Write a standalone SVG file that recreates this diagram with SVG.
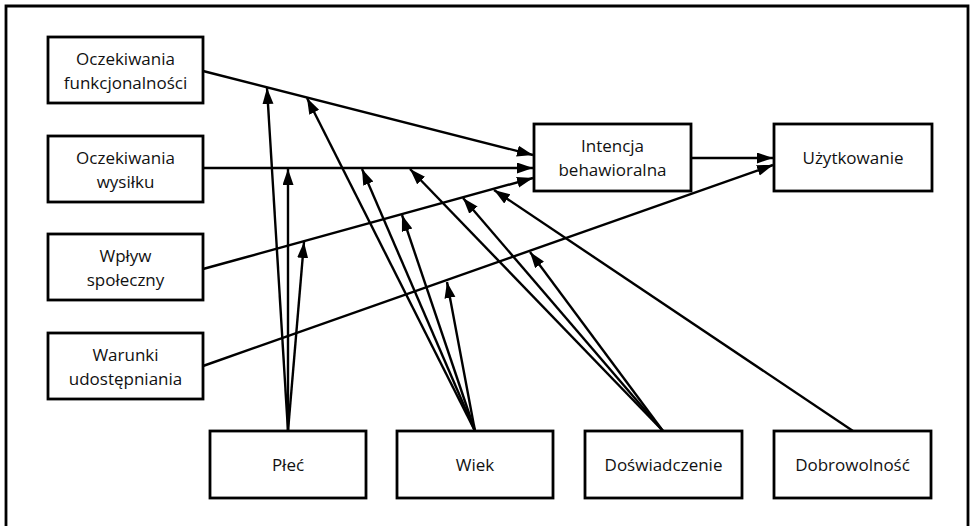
<svg xmlns="http://www.w3.org/2000/svg" width="970" height="526" viewBox="0 0 970 526">
  <style>
    .box { fill: #fff; stroke: #000; stroke-width: 2.8; }
    .lbl { font-family: "Open Sans", "Liberation Sans", sans-serif; font-size: 17px; fill: #111; text-anchor: middle; }
    .edge { fill: none; stroke: #000; stroke-width: 2.4; marker-end: url(#arrow); }
    .frame { fill: none; stroke: #000; stroke-width: 2.8; }
  </style>
  <defs>
    <marker id="arrow" markerUnits="userSpaceOnUse" markerWidth="17" markerHeight="12" refX="16" refY="5.5" orient="auto">
      <path d="M0,0 L16,5.5 L0,11 Z" fill="#000"/>
    </marker>
  </defs>

  <rect width="970" height="526" fill="#fff"/>
  <!-- outer frame, open at the bottom -->
  <path class="frame" d="M6,526 V6 H968 V526"/>

  <!-- connectors -->
  <g id="connectors">
    <!-- predictors to intention / use -->
    <line class="edge" x1="203" y1="71" x2="533" y2="155"/>
    <line class="edge" x1="203" y1="168" x2="533" y2="168"/>
    <line class="edge" x1="203" y1="269" x2="533" y2="178"/>
    <line class="edge" x1="203" y1="366" x2="773" y2="165"/>
    <line class="edge" x1="691" y1="158" x2="773" y2="158"/>
    <!-- Płeć moderations -->
    <line class="edge" x1="288" y1="431" x2="267" y2="88"/>
    <line class="edge" x1="288" y1="431" x2="288" y2="169"/>
    <line class="edge" x1="288" y1="431" x2="304" y2="242"/>
    <!-- Wiek moderations -->
    <line class="edge" x1="475" y1="431" x2="307" y2="98"/>
    <line class="edge" x1="475" y1="431" x2="362" y2="169"/>
    <line class="edge" x1="475" y1="431" x2="402" y2="215"/>
    <line class="edge" x1="475" y1="431" x2="447" y2="282"/>
    <!-- Doświadczenie moderations -->
    <line class="edge" x1="663" y1="431" x2="410" y2="169"/>
    <line class="edge" x1="663" y1="431" x2="463" y2="198"/>
    <line class="edge" x1="663" y1="431" x2="530" y2="252"/>
    <!-- Dobrowolność moderation -->
    <line class="edge" x1="853" y1="431" x2="494" y2="190"/>
  </g>

  <g id="oczekiwania-funkcjonalnosci">
    <rect class="box" x="48" y="37" width="155" height="66"/>
    <text class="lbl" x="125.5" y="65">Oczekiwania</text>
    <text class="lbl" x="125.5" y="88.5">funkcjonalności</text>
  </g>
  <g id="oczekiwania-wysilku">
    <rect class="box" x="48" y="136" width="155" height="66"/>
    <text class="lbl" x="125.5" y="164">Oczekiwania</text>
    <text class="lbl" x="125.5" y="187.5">wysiłku</text>
  </g>
  <g id="wplyw-spoleczny">
    <rect class="box" x="48" y="234" width="155" height="66"/>
    <text class="lbl" x="125.5" y="262">Wpływ</text>
    <text class="lbl" x="125.5" y="285.5">społeczny</text>
  </g>
  <g id="warunki-udostepniania">
    <rect class="box" x="48" y="333" width="155" height="66"/>
    <text class="lbl" x="125.5" y="361">Warunki</text>
    <text class="lbl" x="125.5" y="384.5">udostępniania</text>
  </g>
  <g id="intencja">
    <rect class="box" x="534" y="124" width="157" height="67"/>
    <text class="lbl" x="612.5" y="152">Intencja</text>
    <text class="lbl" x="612.5" y="175.5">behawioralna</text>
  </g>
  <g id="uzytkowanie">
    <rect class="box" x="774" y="124" width="158" height="67"/>
    <text class="lbl" x="853" y="164">Użytkowanie</text>
  </g>
  <g id="plec">
    <rect class="box" x="210" y="431" width="156" height="67"/>
    <text class="lbl" x="288" y="470.5">Płeć</text>
  </g>
  <g id="wiek">
    <rect class="box" x="397" y="431" width="156" height="67"/>
    <text class="lbl" x="475" y="470.5">Wiek</text>
  </g>
  <g id="doswiadczenie">
    <rect class="box" x="585" y="431" width="157" height="67"/>
    <text class="lbl" x="663.5" y="470.5">Doświadczenie</text>
  </g>
  <g id="dobrowolnosc">
    <rect class="box" x="774" y="431" width="157" height="67"/>
    <text class="lbl" x="852.5" y="470.5">Dobrowolność</text>
  </g>
</svg>
